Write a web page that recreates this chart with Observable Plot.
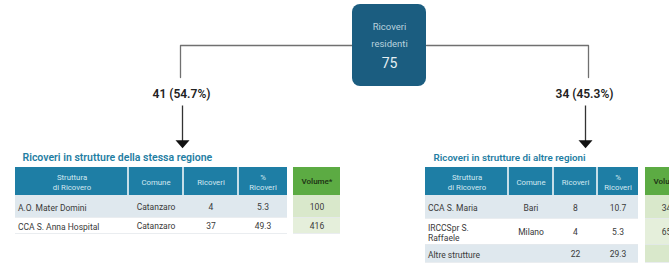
<!DOCTYPE html>
<html>
<head>
<meta charset="utf-8">
<script src="https://cdn.jsdelivr.net/npm/d3@7"></script>
<script src="https://cdn.jsdelivr.net/npm/@observablehq/plot@0.6"></script>
<style>
  html, body { margin: 0; padding: 0; background: #ffffff; }
  #chart svg { display: block; }
</style>
</head>
<body>
<div id="chart"></div>
<script>
// ---------- DATA ----------
const centerLines = ["Ricoveri", "residenti"];
const centerTotal = 75;
const flowCounts = [41, 34];
const flowPercents = [54.7, 45.3];
const tableTitles = ["Ricoveri in strutture della stessa regione", "Ricoveri in strutture di altre regioni"];
const headerLabels = ["Struttura\ndi Ricovero", "Comune", "Ricoveri", "%\nRicoveri"];
const volumeLabel = "Volume*";

const leftStrutture = ["A.O. Mater Domini", "CCA S. Anna Hospital"];
const leftComuni = ["Catanzaro", "Catanzaro"];
const leftRicoveri = [4, 37];
const leftPercent = [5.3, 49.3];
const leftVolume = [100, 416];

const rightStrutture = ["CCA S. Maria", "IRCCSpr S.\nRaffaele", "Altre strutture"];
const rightComuni = ["Bari", "Milano", ""];
const rightRicoveri = [8, 4, 22];
const rightPercent = [10.7, 5.3, 29.3];
const rightVolume = [345, 658, null];

// ---------- LAYOUT (pixel positions, separate from data) ----------
const W = 669, H = 268;
const layout = [
  { cols: [15, 128, 183, 238, 287], green: [293, 340], titleX: 22, titleSize: 10.5,
    rows: [[195, 217], [217, 233]] },
  { cols: [425, 508, 553, 597, 638], green: [645, 692], titleX: 433, titleSize: 9.8,
    rows: [[195, 218], [218, 244], [244, 262]] }
];
const headerY = [167, 195];
const tables = [
  { strutture: leftStrutture, comuni: leftComuni, ric: leftRicoveri, pct: leftPercent, vol: leftVolume },
  { strutture: rightStrutture, comuni: rightComuni, ric: rightRicoveri, pct: rightPercent, vol: rightVolume }
];

const headerRects = [], headerTexts = [], bodyRects = [], firstColTexts = [], bodyTexts = [], greenRects = [], greenTexts = [], rules = [];
tables.forEach((t, ti) => {
  const L = layout[ti];
  for (let c = 0; c < 4; c++) {
    headerRects.push({ x1: L.cols[c] + (c ? 0.75 : 0), x2: L.cols[c + 1] - (c < 3 ? 0.75 : 0), y1: headerY[0], y2: headerY[1] });
    headerTexts.push({ x: (L.cols[c] + L.cols[c + 1]) / 2, y: (headerY[0] + headerY[1]) / 2, text: headerLabels[c] });
  }
  greenRects.push({ x1: L.green[0], x2: L.green[1], y1: headerY[0], y2: headerY[1], fill: "#5cab43" });
  greenTexts.push({ x: (L.green[0] + L.green[1]) / 2, y: (headerY[0] + headerY[1]) / 2, text: volumeLabel, head: true });
  t.strutture.forEach((s, r) => {
    const [y1, y2] = L.rows[r];
    const ym = (y1 + y2) / 2 + 1;
    const shaded = r % 2 === 0;
    bodyRects.push({ x1: L.cols[0], x2: L.cols[4], y1, y2, fill: shaded ? "#dfe8ee" : "#ffffff" });
    greenRects.push({ x1: L.green[0], x2: L.green[1], y1, y2, fill: shaded ? "#d9e8cb" : "#e5efdb" });
    rules.push({ x1: L.cols[0], x2: L.cols[4], y: y2 }, { x1: L.green[0], x2: L.green[1], y: y2 });
    firstColTexts.push({ x: L.cols[0] + 2.5, y: ym, text: s });
    bodyTexts.push({ x: (L.cols[1] + L.cols[2]) / 2, y: ym, text: t.comuni[r] });
    bodyTexts.push({ x: (L.cols[2] + L.cols[3]) / 2, y: ym, text: String(t.ric[r]) });
    bodyTexts.push({ x: (L.cols[3] + L.cols[4]) / 2, y: ym, text: t.pct[r].toFixed(1) });
    if (t.vol[r] != null) greenTexts.push({ x: (L.green[0] + L.green[1]) / 2, y: ym, text: String(t.vol[r]), head: false });
  });
});

const titles = tableTitles.map((t, i) => ({ x: layout[i].titleX, y: 157, text: t, size: layout[i].titleSize }));

const box = [{ x1: 352, x2: 426, y1: 4, y2: 86 }];
const boxTexts = [
  { x: 389, y: 26, text: centerLines[0], size: 9.5, fill: "#b9d1dd" },
  { x: 389, y: 43, text: centerLines[1], size: 9.5, fill: "#b9d1dd" },
  { x: 389, y: 63, text: String(centerTotal), size: 14, fill: "#e6eff3" }
];
const flowX = [181, 584];
const flowTexts = flowCounts.map((n, i) => ({ x: flowX[i], y: 94, text: `${n} (${flowPercents[i].toFixed(1)}%)` }));
const connectors = [
  { x: 180, y: 77, g: "a" }, { x: 180, y: 45, g: "a" }, { x: 352, y: 45, g: "a" },
  { x: 426, y: 45, g: "b" }, { x: 588, y: 45, g: "b" }, { x: 588, y: 77, g: "b" }
];
const arrowX = [182, 585];
const arrows = arrowX.map(x => ({ x, y1: 105, y2: 141 }));
const heads = arrowX.map(x => ({ x, y: 143.5 }));

const downTriangle = {
  draw(context, size) {
    const r = Math.sqrt(size / Math.PI);
    context.moveTo(-r, -r * 0.55);
    context.lineTo(r, -r * 0.55);
    context.lineTo(0, r * 0.6);
    context.closePath();
  }
};

const font = "Roboto, 'Noto Sans', sans-serif";

const chart = Plot.plot({
  width: W,
  height: H,
  margin: 0,
  x: { domain: [0, W], range: [0, W], axis: null },
  y: { domain: [0, H], range: [0, H], axis: null },
  style: { fontFamily: font, background: "#ffffff" },
  marks: [
    Plot.line(connectors, { x: "x", y: "y", z: "g", stroke: "#707070", strokeWidth: 1.3 }),
    Plot.rect(box, { x1: "x1", x2: "x2", y1: "y1", y2: "y2", fill: "#1b5d80", rx: 8 }),
    Plot.text(boxTexts, { x: "x", y: "y", text: "text", fill: "fill", fontSize: "size" }),
    Plot.text(flowTexts, { x: "x", y: "y", text: "text", fontSize: 12, fontWeight: 600, fill: "#222222" }),
    Plot.link(arrows, { x1: "x", x2: "x", y1: "y1", y2: "y2", stroke: "#333333", strokeWidth: 1.3 }),
    Plot.dot(heads, { x: "x", y: "y", r: 7, symbol: downTriangle, fill: "#111111", stroke: null }),
    Plot.text(titles, { x: "x", y: "y", text: "text", fontSize: "size", fontWeight: 600, fill: "#1f7ea3", textAnchor: "start" }),
    Plot.rect(headerRects, { x1: "x1", x2: "x2", y1: "y1", y2: "y2", fill: "#1e7ea5" }),
    Plot.rect(bodyRects, { x1: "x1", x2: "x2", y1: "y1", y2: "y2", fill: "fill" }),
    Plot.rect(greenRects, { x1: "x1", x2: "x2", y1: "y1", y2: "y2", fill: "fill" }),
    Plot.ruleY(rules, { x1: "x1", x2: "x2", y: "y", stroke: "#e4e9ec", strokeWidth: 0.8 }),
    Plot.text(headerTexts, { x: "x", y: "y", text: "text", fontSize: 7.8, fill: "#d3e8f1", lineHeight: 1.3 }),
    Plot.text(greenTexts.filter(d => d.head), { x: "x", y: "y", text: "text", fontSize: 8, fontWeight: 600, fill: "#1f3516" }),
    Plot.text(greenTexts.filter(d => !d.head), { x: "x", y: "y", text: "text", fontSize: 8.5, fill: "#3a3a3a" }),
    Plot.text(firstColTexts, { x: "x", y: "y", text: "text", textAnchor: "start", fontSize: 8.5, fill: "#3a3a3a", lineHeight: 1.2 }),
    Plot.text(bodyTexts, { x: "x", y: "y", text: "text", fontSize: 8.5, fill: "#3a3a3a" })
  ]
});
document.getElementById("chart").appendChild(chart);
</script>
</body>
</html>
